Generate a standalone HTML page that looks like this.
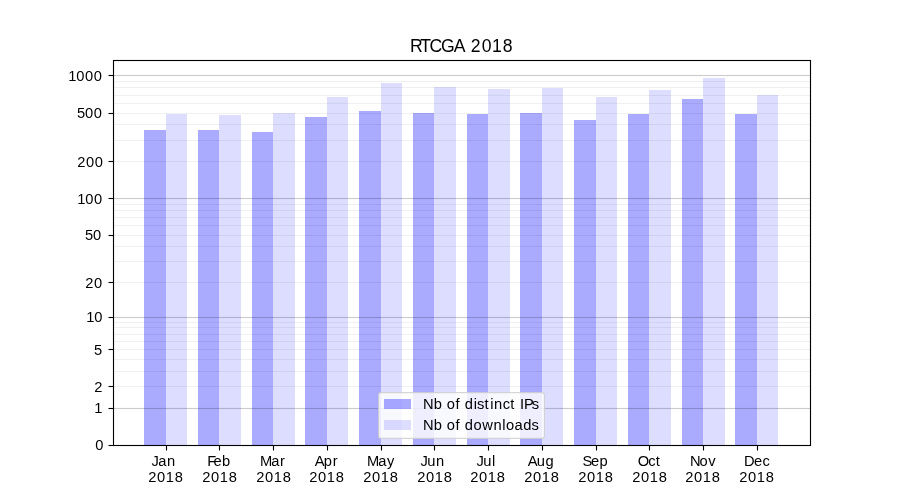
<!DOCTYPE html>
<html lang="en">
<head>
<meta charset="utf-8">
<title>RTCGA 2018</title>
<style>
html,body{margin:0;padding:0;background:#fff;}
body{width:900px;height:500px;overflow:hidden;}
svg{display:block;font-family:"Liberation Sans",sans-serif;}
text{fill:#000;}
</style>
</head>
<body>
<svg width="900" height="500" viewBox="0 0 900 500">
<rect x="0" y="0" width="900" height="500" fill="#fff"/>
<g shape-rendering="crispEdges">
<g fill="#0000ff" fill-opacity="0.3333">
<rect x="144" y="130" width="22" height="315"/>
<rect x="198" y="130" width="21" height="315"/>
<rect x="252" y="132" width="21" height="313"/>
<rect x="305" y="117" width="22" height="328"/>
<rect x="359" y="111" width="22" height="334"/>
<rect x="413" y="113" width="21" height="332"/>
<rect x="467" y="114" width="21" height="331"/>
<rect x="520" y="113" width="22" height="332"/>
<rect x="574" y="120" width="22" height="325"/>
<rect x="628" y="114" width="21" height="331"/>
<rect x="682" y="99" width="21" height="346"/>
<rect x="735" y="114" width="22" height="331"/>
</g>
<g fill="#0000ff" fill-opacity="0.1333">
<rect x="166" y="114" width="21" height="331"/>
<rect x="219" y="115" width="22" height="330"/>
<rect x="273" y="113" width="22" height="332"/>
<rect x="327" y="97" width="21" height="348"/>
<rect x="381" y="83" width="21" height="362"/>
<rect x="434" y="87" width="22" height="358"/>
<rect x="488" y="89" width="22" height="356"/>
<rect x="542" y="88" width="21" height="357"/>
<rect x="596" y="97" width="21" height="348"/>
<rect x="649" y="90" width="22" height="355"/>
<rect x="703" y="78" width="22" height="367"/>
<rect x="757" y="95" width="21" height="350"/>
</g>
<g fill="#000" fill-opacity="0.06">
<rect x="113" y="386" width="697" height="1"/>
<rect x="113" y="371" width="697" height="1"/>
<rect x="113" y="359" width="697" height="1"/>
<rect x="113" y="349" width="697" height="1"/>
<rect x="113" y="341" width="697" height="1"/>
<rect x="113" y="334" width="697" height="1"/>
<rect x="113" y="327" width="697" height="1"/>
<rect x="113" y="322" width="697" height="1"/>
<rect x="113" y="282" width="697" height="1"/>
<rect x="113" y="261" width="697" height="1"/>
<rect x="113" y="246" width="697" height="1"/>
<rect x="113" y="235" width="697" height="1"/>
<rect x="113" y="225" width="697" height="1"/>
<rect x="113" y="217" width="697" height="1"/>
<rect x="113" y="210" width="697" height="1"/>
<rect x="113" y="204" width="697" height="1"/>
<rect x="113" y="161" width="697" height="1"/>
<rect x="113" y="140" width="697" height="1"/>
<rect x="113" y="124" width="697" height="1"/>
<rect x="113" y="113" width="697" height="1"/>
<rect x="113" y="103" width="697" height="1"/>
<rect x="113" y="95" width="697" height="1"/>
<rect x="113" y="87" width="697" height="1"/>
<rect x="113" y="81" width="697" height="1"/>
</g>
<g fill="#000" fill-opacity="0.2">
<rect x="113" y="408" width="697" height="1"/>
<rect x="113" y="317" width="697" height="1"/>
<rect x="113" y="198" width="697" height="1"/>
<rect x="113" y="75" width="697" height="1"/>
</g>
<g fill="#000" fill-opacity="0.011">
<rect x="113" y="407" width="697" height="1"/><rect x="113" y="409" width="697" height="1"/>
<rect x="113" y="316" width="697" height="1"/><rect x="113" y="318" width="697" height="1"/>
<rect x="113" y="197" width="697" height="1"/><rect x="113" y="199" width="697" height="1"/>
<rect x="113" y="74" width="697" height="1"/><rect x="113" y="76" width="697" height="1"/>
</g>
<g fill="#000">
<rect x="166" y="446" width="1" height="4"/>
<rect x="219" y="446" width="1" height="4"/>
<rect x="273" y="446" width="1" height="4"/>
<rect x="327" y="446" width="1" height="4"/>
<rect x="381" y="446" width="1" height="4"/>
<rect x="434" y="446" width="1" height="4"/>
<rect x="488" y="446" width="1" height="4"/>
<rect x="542" y="446" width="1" height="4"/>
<rect x="596" y="446" width="1" height="4"/>
<rect x="649" y="446" width="1" height="4"/>
<rect x="703" y="446" width="1" height="4"/>
<rect x="757" y="446" width="1" height="4"/>
<rect x="109" y="445" width="4" height="1"/>
<rect x="109" y="408" width="4" height="1"/>
<rect x="109" y="386" width="4" height="1"/>
<rect x="109" y="349" width="4" height="1"/>
<rect x="109" y="317" width="4" height="1"/>
<rect x="109" y="282" width="4" height="1"/>
<rect x="109" y="235" width="4" height="1"/>
<rect x="109" y="198" width="4" height="1"/>
<rect x="109" y="161" width="4" height="1"/>
<rect x="109" y="113" width="4" height="1"/>
<rect x="109" y="75" width="4" height="1"/>
</g>
<g fill="#000" fill-opacity="0.5">
<rect x="166" y="450" width="1" height="1"/>
<rect x="219" y="450" width="1" height="1"/>
<rect x="273" y="450" width="1" height="1"/>
<rect x="327" y="450" width="1" height="1"/>
<rect x="381" y="450" width="1" height="1"/>
<rect x="434" y="450" width="1" height="1"/>
<rect x="488" y="450" width="1" height="1"/>
<rect x="542" y="450" width="1" height="1"/>
<rect x="596" y="450" width="1" height="1"/>
<rect x="649" y="450" width="1" height="1"/>
<rect x="703" y="450" width="1" height="1"/>
<rect x="757" y="450" width="1" height="1"/>
<rect x="108" y="445" width="1" height="1"/>
<rect x="108" y="408" width="1" height="1"/>
<rect x="108" y="386" width="1" height="1"/>
<rect x="108" y="349" width="1" height="1"/>
<rect x="108" y="317" width="1" height="1"/>
<rect x="108" y="282" width="1" height="1"/>
<rect x="108" y="235" width="1" height="1"/>
<rect x="108" y="198" width="1" height="1"/>
<rect x="108" y="161" width="1" height="1"/>
<rect x="108" y="113" width="1" height="1"/>
<rect x="108" y="75" width="1" height="1"/>
</g>
<g fill="#000" fill-opacity="0.055">
<rect x="165" y="446" width="1" height="4"/><rect x="167" y="446" width="1" height="4"/>
<rect x="218" y="446" width="1" height="4"/><rect x="220" y="446" width="1" height="4"/>
<rect x="272" y="446" width="1" height="4"/><rect x="274" y="446" width="1" height="4"/>
<rect x="326" y="446" width="1" height="4"/><rect x="328" y="446" width="1" height="4"/>
<rect x="380" y="446" width="1" height="4"/><rect x="382" y="446" width="1" height="4"/>
<rect x="433" y="446" width="1" height="4"/><rect x="435" y="446" width="1" height="4"/>
<rect x="487" y="446" width="1" height="4"/><rect x="489" y="446" width="1" height="4"/>
<rect x="541" y="446" width="1" height="4"/><rect x="543" y="446" width="1" height="4"/>
<rect x="595" y="446" width="1" height="4"/><rect x="597" y="446" width="1" height="4"/>
<rect x="648" y="446" width="1" height="4"/><rect x="650" y="446" width="1" height="4"/>
<rect x="702" y="446" width="1" height="4"/><rect x="704" y="446" width="1" height="4"/>
<rect x="756" y="446" width="1" height="4"/><rect x="758" y="446" width="1" height="4"/>
<rect x="109" y="407" width="4" height="1"/><rect x="109" y="409" width="4" height="1"/>
<rect x="109" y="385" width="4" height="1"/><rect x="109" y="387" width="4" height="1"/>
<rect x="109" y="348" width="4" height="1"/><rect x="109" y="350" width="4" height="1"/>
<rect x="109" y="316" width="4" height="1"/><rect x="109" y="318" width="4" height="1"/>
<rect x="109" y="281" width="4" height="1"/><rect x="109" y="283" width="4" height="1"/>
<rect x="109" y="234" width="4" height="1"/><rect x="109" y="236" width="4" height="1"/>
<rect x="109" y="197" width="4" height="1"/><rect x="109" y="199" width="4" height="1"/>
<rect x="109" y="160" width="4" height="1"/><rect x="109" y="162" width="4" height="1"/>
<rect x="109" y="112" width="4" height="1"/><rect x="109" y="114" width="4" height="1"/>
<rect x="109" y="74" width="4" height="1"/><rect x="109" y="76" width="4" height="1"/>
<rect x="109" y="444" width="3" height="1"/><rect x="109" y="446" width="3" height="1"/>
<rect x="112" y="60" width="1" height="386"/><rect x="114" y="61" width="1" height="384"/>
<rect x="809" y="61" width="1" height="384"/><rect x="811" y="60" width="1" height="386"/>
<rect x="113" y="59" width="698" height="1"/><rect x="114" y="61" width="696" height="1"/>
<rect x="114" y="444" width="696" height="1"/><rect x="113" y="446" width="698" height="1"/>
</g>
<g fill="#000"><rect x="113" y="60" width="698" height="1"/><rect x="113" y="445" width="698" height="1"/><rect x="113" y="60" width="1" height="386"/><rect x="810" y="60" width="1" height="386"/></g>
</g>
<g style="filter:opacity(1)">
<text x="95.21" y="449.85" font-size="14.7">0</text>
<text x="94.35" y="412.85" font-size="14.7">1</text>
<text x="94.23" y="391.85" font-size="14.7">2</text>
<text x="93.93" y="354.85" font-size="14.7">5</text>
<text x="86.35 94.18" y="321.85" font-size="14.7">10</text>
<text x="85.36 94.06" y="287.85" font-size="14.7">20</text>
<text x="84.93 92.88" y="239.85" font-size="14.7">50</text>
<text x="77.22 85.30 93.88" y="203.85" font-size="14.7">100</text>
<text x="77.36 86.06 94.64" y="166.85" font-size="14.7">200</text>
<text x="77.05 85.01 93.83" y="117.85" font-size="14.7">500</text>
<text x="68.22 76.30 84.88 93.71" y="80.85" font-size="14.7">1000</text>
<text x="151.47 158.19 167.06" y="465.85" font-size="14.7">Jan</text>
<text x="148.36 157.06 165.64 174.84" y="481.85" font-size="14.7">2018</text>
<text x="207.26 213.62 221.90" y="465.85" font-size="14.7">Feb</text>
<text x="202.36 211.06 219.64 228.84" y="481.85" font-size="14.7">2018</text>
<text x="260.01 271.23 280.11" y="465.85" font-size="14.7">Mar</text>
<text x="256.36 265.06 273.64 282.84" y="481.85" font-size="14.7">2018</text>
<text x="314.77 323.76 332.82" y="465.85" font-size="14.7">Apr</text>
<text x="309.36 318.06 326.64 335.84" y="481.85" font-size="14.7">2018</text>
<text x="367.01 378.23 386.99" y="465.85" font-size="14.7">May</text>
<text x="363.36 372.06 380.64 389.84" y="481.85" font-size="14.7">2018</text>
<text x="420.59 427.19 435.98" y="465.85" font-size="14.7">Jun</text>
<text x="417.36 426.06 434.64 443.84" y="481.85" font-size="14.7">2018</text>
<text x="476.59 483.19 491.98" y="465.85" font-size="14.7">Jul</text>
<text x="470.36 479.06 487.64 496.84" y="481.85" font-size="14.7">2018</text>
<text x="527.77 536.76 545.55" y="465.85" font-size="14.7">Aug</text>
<text x="524.36 533.06 541.64 550.84" y="481.85" font-size="14.7">2018</text>
<text x="582.58 590.89 599.43" y="465.85" font-size="14.7">Sep</text>
<text x="578.36 587.06 595.64 604.84" y="481.85" font-size="14.7">2018</text>
<text x="637.72 648.14 655.64" y="465.85" font-size="14.7">Oct</text>
<text x="632.36 641.06 649.64 658.84" y="481.85" font-size="14.7">2018</text>
<text x="690.01 699.39 708.25" y="465.85" font-size="14.7">Nov</text>
<text x="685.36 694.06 702.64 711.84" y="481.85" font-size="14.7">2018</text>
<text x="744.01 754.07 762.61" y="465.85" font-size="14.7">Dec</text>
<text x="739.36 748.06 756.64 765.84" y="481.85" font-size="14.7">2018</text>
</g>
<rect x="378.55" y="392.6" width="165.9" height="45.8" rx="2.7" ry="2.7" fill="#fff" fill-opacity="0.8" stroke="#ccc" stroke-opacity="0.8" stroke-width="1.111"/>
<rect x="384" y="399" width="27" height="10" fill="#0000ff" fill-opacity="0.3333" shape-rendering="crispEdges"/>
<rect x="384" y="420" width="27" height="10" fill="#0000ff" fill-opacity="0.1333" shape-rendering="crispEdges"/>
<g style="filter:opacity(1)">
<text x="422.89 433.64 442.20 446.73 455.60 459.98 464.77 473.70 477.06 484.41 490.22 494.08 502.87 510.13 515.44 520.10 524.07 531.81" y="408.85" font-size="14.7">Nb of distinct IPs</text>
<text x="422.89 433.64 442.20 446.73 455.60 459.98 464.77 473.58 482.31 493.54 502.33 506.06 514.55 523.30 531.48" y="429.85" font-size="14.7">Nb of downloads</text>
<text x="409.99 420.17 429.57 440.93 453.81 465.18 470.72 481.67 492.00 502.83" y="51.65" font-size="17.64">RTCGA 2018</text>
</g>
</svg>
</body>
</html>
